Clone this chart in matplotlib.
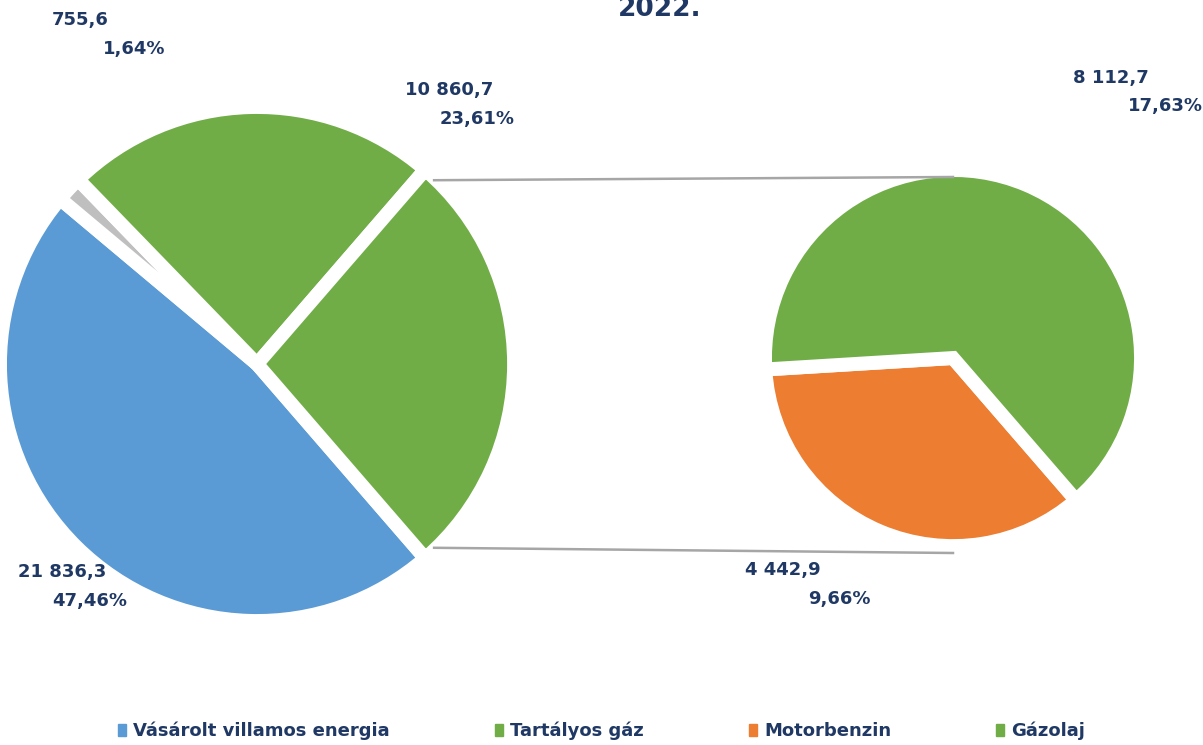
import matplotlib
matplotlib.use('Agg')
import matplotlib.pyplot as plt
from matplotlib.patches import Patch
import numpy as np

# data
main_labels = ['Vásárolt villamos energia', '', 'Tartályos gáz']
main_values = [21836.3, 755.6, 10860.7]
sub_labels = ['Motorbenzin', 'Gázolaj']
sub_values = [4442.9, 8112.7]
title = '2022.'

main_colors = ['#5B9BD5', '#BFBFBF', '#70AD47']
other_color = '#70AD47'
sub_colors = ['#ED7D31', '#70AD47']
text_color = '#1F3864'

W, H = 1203, 745


def fmt_value(v):
    return f'{v:,.1f}'.replace(',', ' ').replace('.', ',')


def fmt_pct(p):
    return f'{p:.2f}%'.replace('.', ',')


def chart():
    total = sum(main_values) + sum(sub_values)
    other = sum(sub_values)

    fig = plt.figure(figsize=(W / 100, H / 100), dpi=100)
    ax = fig.add_axes([0, 0, 1, 1])

    # left pie (pixel coords, y up)
    lc = (257, H - 364)
    lr = 257
    start = -0.5 * other / total * 360
    l_explode = [0, 0, 0, 0.05]
    ax.pie(main_values + [other], colors=main_colors + [other_color],
           center=lc, radius=lr, startangle=start, counterclock=False,
           explode=l_explode, frame=True,
           wedgeprops=dict(edgecolor='white', linewidth=10))

    # right pie
    rc = (953, H - 358)
    rr = 188
    r_explode = [0.08, 0]
    ax.pie(sub_values, colors=sub_colors, center=rc, radius=rr,
           startangle=start, counterclock=False, explode=r_explode, frame=True,
           wedgeprops=dict(edgecolor='white', linewidth=10))
    ax.set_xlim(0, W)
    ax.set_ylim(0, H)
    ax.set_aspect('equal')
    ax.axis('off')

    # connector lines
    a = np.deg2rad(-start)
    ox = lc[0] + l_explode[3] * lr
    x0 = ox + (lr - 6) * np.cos(a)
    y_top = lc[1] + (lr - 6) * np.sin(a)
    y_bot = lc[1] - (lr - 6) * np.sin(a)
    ax.plot([x0, rc[0]], [y_top - 6, rc[1] + rr - 7], color='#A6A6A6', lw=1.8)
    ax.plot([x0, rc[0]], [y_bot + 6, rc[1] - rr - 7], color='#A6A6A6', lw=1.8)

    # data labels
    lab_vals = [main_values[1], main_values[2], sub_values[1], main_values[0], sub_values[0]]
    lab_pos = [(52, 20, 103, 49), (405, 90, 440, 119), (1073, 78, 1128, 106),
               (18, 572, 52, 601), (745, 570, 808, 599)]
    for v, (x1, y1, x2, y2) in zip(lab_vals, lab_pos):
        ax.text(x1, H - y1, fmt_value(v), ha='left', va='center',
                fontsize=13, fontweight='bold', color=text_color)
        ax.text(x2, H - y2, fmt_pct(v / total * 100), ha='left', va='center',
                fontsize=13, fontweight='bold', color=text_color)

    ax.text(660, H - 16, title, ha='center', va='baseline',
            fontsize=19, fontweight='bold', color=text_color)

    handles = [Patch(color=main_colors[0]), Patch(color=main_colors[2]),
               Patch(color=sub_colors[0]), Patch(color=sub_colors[1])]
    labels = [main_labels[0], main_labels[2], sub_labels[0], sub_labels[1]]
    leg = fig.legend(handles, labels, loc='center', bbox_to_anchor=(0.5, 14 / H),
                     ncol=4, frameon=False, handlelength=0.45, handleheight=0.7,
                     handletextpad=0.4, columnspacing=5.8,
                     prop=dict(size=13, weight='bold'))
    for t in leg.get_texts():
        t.set_color(text_color)

    fig.savefig('out.png', dpi=100)


if __name__ == "__main__":
    chart()
